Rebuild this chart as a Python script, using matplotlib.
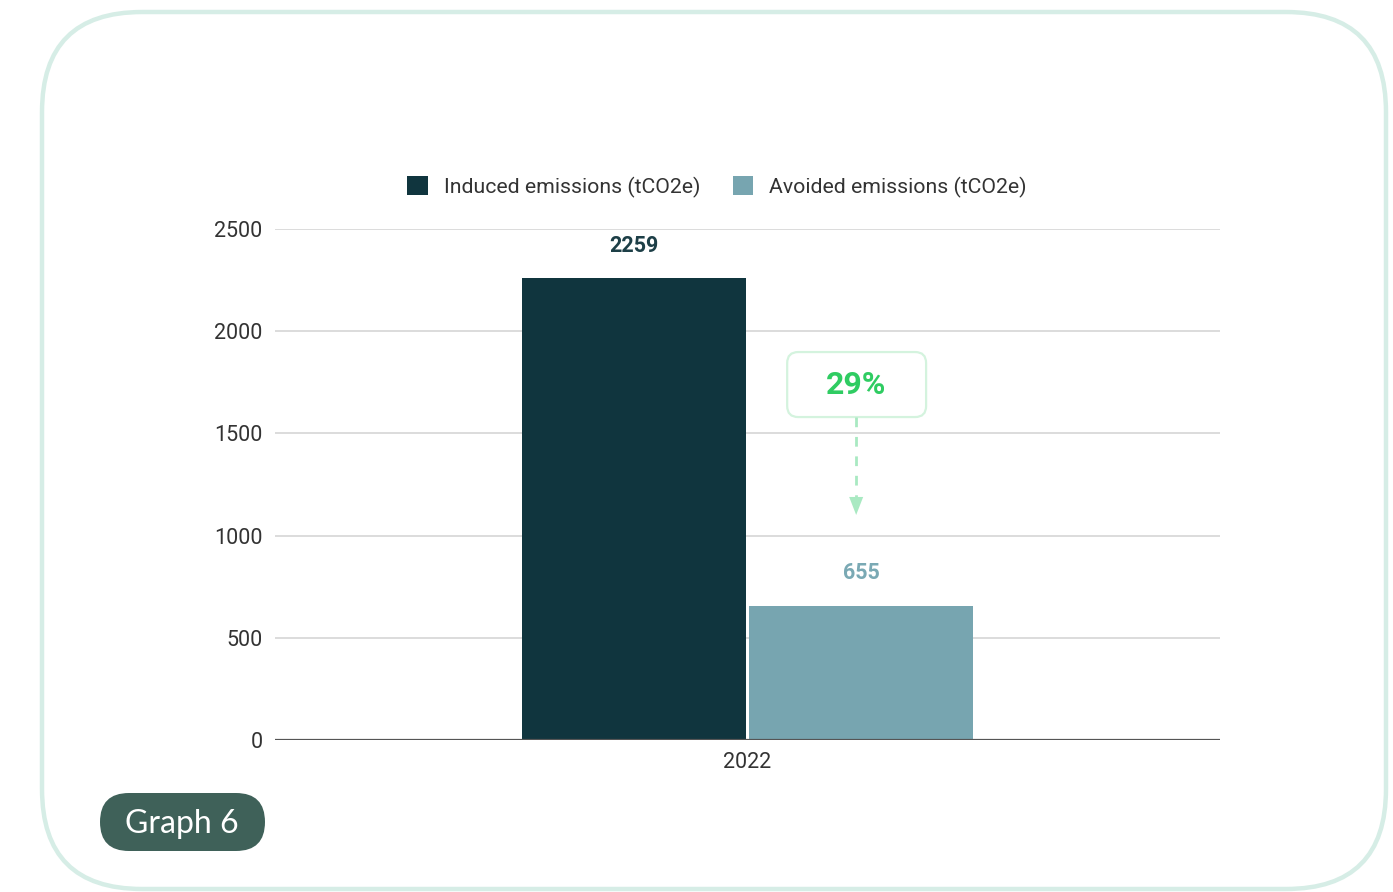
import matplotlib
matplotlib.use("Agg")
import matplotlib.pyplot as plt
from matplotlib.patches import FancyBboxPatch, Patch

# ---- data ----
categories = ["2022"]
series_names = ["Induced emissions (tCO2e)", "Avoided emissions (tCO2e)"]
induced = [2259]
avoided = [655]
yticks = [0, 500, 1000, 1500, 2000, 2500]
badge_text = "Graph 6"

c_induced = "#10353e"
c_avoided = "#77a5b0"
lbl_induced = "#1d3f47"
lbl_avoided = "#7aa9b4"
green_txt = "#2fcc62"
green_light = "#a9e9c2"
box_edge = "#d4f3de"

plt.rcParams["font.family"] = ["Roboto", "DejaVu Sans"]

W, H = 1393, 892
fig = plt.figure(figsize=(W / 100, H / 100), dpi=100)
fig.patch.set_facecolor("white")

# overlay in pixel coords for frame & badge
ov = fig.add_axes([0, 0, 1, 1], zorder=0)
ov.set_xlim(0, W)
ov.set_ylim(H, 0)
ov.axis("off")
ov.add_patch(FancyBboxPatch((42, 12), 1344, 877,
                            boxstyle="round,pad=0,rounding_size=100",
                            fc="none", ec="#d6ede6", lw=3.2))
ov.add_patch(FancyBboxPatch((100, 793), 165, 58,
                            boxstyle="round,pad=0,rounding_size=29",
                            fc="#3f6159", ec="none"))
ov.text(182, 824, badge_text, color="white", fontsize=23, ha="center",
        va="center", family=["Lato", "DejaVu Sans"])

# main axes
ax = fig.add_axes([275 / W, 1 - 740 / H, 945 / W, 511 / H], zorder=1)
ax.set_facecolor("none")
ax.set_xlim(-0.5, 0.5)
ax.set_ylim(0, 2500)

width = 0.237
off = 0.1206
x0 = 0
ax.bar([x0 - off], induced, width=width, color=c_induced, zorder=3)
ax.bar([x0 + off], avoided, width=width, color=c_avoided, zorder=3)

for v, x, c in [(induced[0], x0 - off, lbl_induced), (avoided[0], x0 + off, lbl_avoided)]:
    ax.annotate(f"{v}", (x, v), xytext=(0, 23.5), textcoords="offset points",
                ha="center", va="center", fontsize=15.5, fontweight="bold", color=c)

ax.set_yticks(yticks)
ax.set_yticklabels([str(t) for t in yticks])
ax.set_xticks([x0])
ax.set_xticklabels(categories)
ax.tick_params(axis="both", length=0, labelsize=15.5, labelcolor="#333333")
ax.tick_params(axis="y", pad=9)
ax.tick_params(axis="x", pad=9)
ax.grid(axis="y", color="#d9d9d9", lw=1.3, zorder=0)
ax.axhline(0, color="#555555", lw=1.6, zorder=4)
for s in ax.spines.values():
    s.set_visible(False)

# percentage callout
pct = round(100 * avoided[0] / induced[0])
ax_x = 0.115
box_y0, box_y1 = 1580, 1898
box_x0, box_x1 = 0.042, 0.189
px_per_x = 945 / 1.0
px_per_y = 511 / 2500
r_px = 11
ax.add_patch(FancyBboxPatch((box_x0, box_y0), box_x1 - box_x0, box_y1 - box_y0,
                            boxstyle=f"round,pad=0,rounding_size={r_px / px_per_x}",
                            mutation_aspect=px_per_x / px_per_y,
                            fc="white", ec=box_edge, lw=1.6, zorder=5))
ax.text(ax_x, (box_y0 + box_y1) / 2, f"{pct}%", ha="center", va="center",
        fontsize=23, fontweight="bold", color=green_txt, zorder=6)
tip_y = 1101
base_y = tip_y + 18 / px_per_y
ax.plot([ax_x, ax_x], [box_y0, base_y], color=green_light, lw=2,
        linestyle=(0, (3.5, 3.5)), zorder=6, solid_capstyle="butt")
ax.fill([ax_x - 7 / px_per_x, ax_x + 7 / px_per_x, ax_x],
        [base_y, base_y, tip_y], color=green_light, lw=0, zorder=6)

# legend
handles = [Patch(fc=c_induced, ec="none"), Patch(fc=c_avoided, ec="none")]
leg = fig.legend(handles, series_names, loc="center",
                 bbox_to_anchor=(717 / W, 1 - 187 / H), ncol=2, frameon=False,
                 fontsize=15.3, handlelength=0.95, handleheight=0.95,
                 handletextpad=0.75, columnspacing=1.55, labelcolor="#333333")

fig.savefig("out.png", dpi=100, facecolor="white")
